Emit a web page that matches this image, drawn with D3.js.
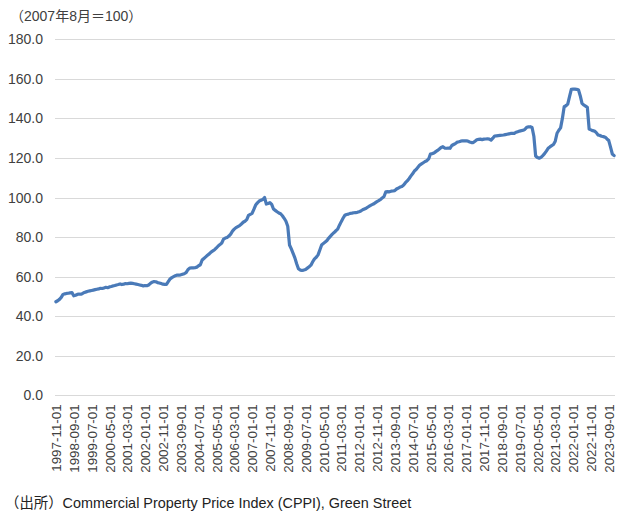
<!DOCTYPE html>
<html><head><meta charset="utf-8">
<script src="https://cdn.jsdelivr.net/npm/d3@7"></script>
<style>
html,body{margin:0;padding:0;background:#fff;}
svg{display:block;font-family:"Liberation Sans","Noto Sans CJK JP",sans-serif;}
</style></head>
<body>
<svg id="chart" width="626" height="521"></svg>
<script>
const startYear = 1997, startMonth = 11;
const values = [
47.3,47.8,48.5,49.5,51.0,51.3,51.5,51.6,51.8,51.9,
50.3,50.6,51.0,51.2,51.1,51.5,52.0,52.3,52.6,52.8,
53.0,53.2,53.4,53.6,53.8,54.1,54.0,54.3,54.6,54.4,
54.8,55.0,55.3,55.5,55.8,56.0,56.3,56.0,56.2,56.5,
56.4,56.6,56.7,56.6,56.4,56.2,56.0,55.8,55.6,55.3,
55.5,55.4,55.8,56.6,57.2,57.5,57.4,57.0,56.8,56.5,
56.2,56.1,56.1,57.5,58.8,59.5,60.0,60.5,60.8,60.8,
60.9,61.2,61.5,62.0,63.5,64.3,64.4,64.4,64.5,64.8,
65.5,66.0,68.4,69.2,70.0,70.8,71.5,72.4,73.0,73.6,
74.5,75.5,76.2,77.0,79.0,79.5,79.8,80.5,81.5,83.0,
84.0,84.8,85.3,85.8,86.6,87.5,88.0,88.8,91.0,91.5,
92.0,94.0,96.2,97.3,98.2,98.6,99.0,100.0,96.7,97.0,
97.4,96.5,94.2,93.5,92.8,92.2,91.8,90.8,89.5,88.0,
85.5,76.0,74.0,71.8,69.5,66.5,64.0,63.3,63.2,63.3,
63.6,64.3,65.0,65.8,67.5,69.0,69.8,71.0,73.5,76.0,
76.8,77.5,78.3,79.5,80.5,81.5,82.3,83.2,84.0,86.0,
87.8,89.5,91.0,91.4,91.6,92.0,92.1,92.3,92.4,92.5,
92.8,93.2,93.8,94.2,94.6,95.2,95.8,96.3,96.7,97.3,
97.9,98.4,99.0,99.8,100.5,102.9,103.0,102.9,103.2,103.3,
103.5,104.3,104.8,105.3,105.6,106.3,107.5,108.4,109.5,110.8,
112.0,113.4,114.2,115.3,116.4,117.0,117.6,118.2,118.6,119.5,
122.0,122.2,122.5,123.2,123.8,124.5,125.3,125.7,125.0,124.9,
125.0,124.9,126.3,126.8,127.3,128.0,128.2,128.5,128.7,128.6,
128.7,128.5,128.1,127.8,127.8,128.5,129.2,129.4,129.5,129.3,
129.5,129.6,129.7,129.5,129.0,130.0,131.1,131.2,131.3,131.4,
131.5,131.6,131.8,132.0,132.2,132.4,132.5,132.4,133.0,133.3,
133.6,133.8,134.0,134.5,135.5,135.7,135.8,135.4,131.0,121.0,
120.2,119.9,120.3,121.2,122.2,123.5,124.9,125.6,126.2,126.8,
128.5,132.5,134.0,135.2,140.0,145.9,146.4,147.2,151.0,154.7,
154.8,154.8,154.7,154.5,151.5,147.6,146.8,146.2,145.6,134.6,
134.2,133.8,133.6,132.8,131.6,131.4,131.0,130.8,130.5,129.6,
128.8,125.5,122.0,121.2
];
const yTicks = [0,20,40,60,80,100,120,140,160,180];
const unitLabel = "（2007年8月＝100）";
const sourceLabel = "（出所）Commercial Property Price Index (CPPI), Green Street";

const pad = n => String(n).padStart(2,"0");
const categories = values.map((v,i)=>{
  const m = startMonth - 1 + i;
  const yr = startYear + Math.floor(m/12);
  return `${yr}-${pad(m%12+1)}-01`;
});
const labelEvery = 10;

const svg = d3.select("#chart");
const pLeft = 55, pRight = 615, pTop = 39.3, pBottom = 395.3;

const x = d3.scalePoint().domain(categories).range([pLeft,pRight]).padding(0.5);
const y = d3.scaleLinear().domain([0,180]).range([pBottom,pTop]);

// gridlines
svg.append("g").selectAll("line").data(yTicks).join("line")
  .attr("x1",pLeft).attr("x2",pRight)
  .attr("y1",d=>Math.round(y(d))+0.5).attr("y2",d=>Math.round(y(d))+0.5)
  .attr("stroke","#d9d9d9").attr("stroke-width",1);

// y axis labels
const yAxis = d3.axisLeft(y).tickValues(yTicks).tickFormat(d3.format(".1f")).tickSize(0).tickPadding(0);
const gy = svg.append("g").attr("transform",`translate(43,0)`).call(yAxis);
gy.select(".domain").remove();
gy.selectAll("text").attr("font-size",14).attr("fill","#404040")
  .attr("font-family",'"Liberation Sans","Noto Sans CJK JP",sans-serif');

// x axis labels
const xAxis = d3.axisBottom(x).tickValues(categories.filter((d,i)=>i%labelEvery===0)).tickSize(0).tickPadding(0);
const gx = svg.append("g").attr("transform",`translate(0,${pBottom})`).call(xAxis);
gx.select(".domain").remove();
gx.selectAll("text")
  .attr("font-size",13.4).attr("fill","#404040")
  .attr("font-family",'"Liberation Sans","Noto Sans CJK JP",sans-serif')
  .attr("transform","rotate(-90)")
  .attr("text-anchor","end")
  .attr("dy","0.35em")
  .attr("x",-9).attr("y",0);

// line
const line = d3.line().x((d,i)=>x(categories[i])).y(d=>y(d)).curve(d3.curveLinear);
svg.append("path").datum(values)
  .attr("d",line).attr("fill","none")
  .attr("stroke","#4a7ab8").attr("stroke-width",3.2)
  .attr("stroke-linejoin","round").attr("stroke-linecap","round");

// texts
svg.append("text").attr("x",10).attr("y",21).attr("font-size",14).attr("fill","#404040")
  .text(unitLabel);
svg.append("text").attr("x",5).attr("y",508).attr("font-size",14.4).attr("fill","#222")
  .text(sourceLabel);
</script>
</body></html>
